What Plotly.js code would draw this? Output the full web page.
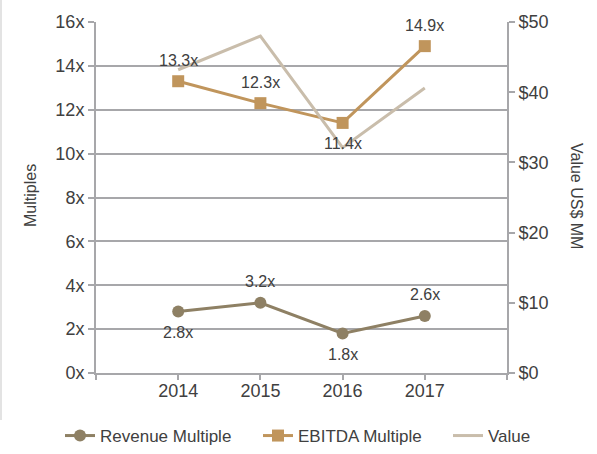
<!DOCTYPE html>
<html><head><meta charset="utf-8">
<script src="https://cdn.plot.ly/plotly-3.0.1.min.js"></script>
<style>body{margin:0;padding:0;background:#fff}#chart{width:597px;height:454px}</style>
</head><body><div id="chart"></div>
<script>
const years = [2014, 2015, 2016, 2017];
const revenueMultiple = [2.8, 3.2, 1.8, 2.6];
const ebitdaMultiple = [13.3, 12.3, 11.4, 14.9];
const valueMM = [43.2, 48.0, 32.1, 40.6];
const revenueLabelAbove = [false, true, false, true];
const ebitdaLabelAbove = [true, true, false, true];
const leftTicks = [0, 2, 4, 6, 8, 10, 12, 14, 16];
const rightTicks = [0, 10, 20, 30, 40, 50];
const fmt = v => v.toFixed(1) + 'x';
const font = 'Liberation Sans, Arial, sans-serif';
const grid = '#a7a7aa';
const txt = '#404040';

const traces = [
  {x: years, y: revenueMultiple, name: 'Revenue Multiple', type: 'scatter', mode: 'lines+markers',
   legend: 'legend',
   line: {color: '#8e8064', width: 3}, marker: {symbol: 'circle', size: 12, color: '#8e8064'}},
  {x: years, y: ebitdaMultiple, name: 'EBITDA Multiple', type: 'scatter', mode: 'lines+markers',
   legend: 'legend2',
   line: {color: '#c0955c', width: 3}, marker: {symbol: 'square', size: 12, color: '#c0955c'}},
  {x: years, y: valueMM, name: 'Value', type: 'scatter', mode: 'lines', xaxis: 'x2', yaxis: 'y2',
   legend: 'legend3',
   line: {color: '#c9bdab', width: 3}}
];

const labelAnn = (ys, above) => ys.map((v, i) => ({
  x: years[i], y: v, xref: 'x', yref: 'y', text: fmt(v), showarrow: false,
  xanchor: 'center', yanchor: 'middle', yshift: above[i] ? 21 : -21,
  font: {size: 16, color: txt}
}));

const legendAt = px => ({orientation: 'h', xref: 'container', x: px / 597, xanchor: 'left',
  yref: 'container', y: 0, yanchor: 'bottom', bgcolor: 'rgba(0,0,0,0)',
  font: {size: 17, color: txt}});

const layout = {
  width: 597, height: 454,
  margin: {l: 96, r: 90, t: 22, b: 81, autoexpand: false},
  paper_bgcolor: '#fff', plot_bgcolor: '#fff',
  font: {family: font, color: txt},
  showlegend: true,
  legend: legendAt(60),
  legend2: legendAt(258),
  legend3: legendAt(448),
  xaxis: {range: [2013, 2018], tickvals: [2014, 2015, 2016, 2017],
          ticktext: ['2014', '2015', '2016', '2017'],
          showgrid: false, zeroline: false, showline: true, linecolor: grid, linewidth: 2,
          ticks: '', tickfont: {size: 18, color: txt}},
  xaxis2: {range: [2013, 2018], overlaying: 'x', side: 'bottom', matches: 'x',
           tickvals: [2013, 2014, 2015, 2016, 2017, 2018], showticklabels: false,
           showgrid: false, zeroline: false, showline: false,
           ticks: 'outside', ticklen: 6, tickwidth: 2, tickcolor: grid},
  yaxis: {range: [0, 16], tickvals: leftTicks, ticktext: leftTicks.map(v => v + 'x'),
          showgrid: true, gridcolor: grid, gridwidth: 2, zeroline: false,
          showline: true, linecolor: grid, linewidth: 2,
          ticks: 'outside', ticklen: 6, tickwidth: 2, tickcolor: grid,
          tickfont: {size: 18, color: txt}},
  yaxis2: {range: [0, 50], tickvals: rightTicks, ticktext: rightTicks.map(v => '$' + v),
           overlaying: 'y', side: 'right', showgrid: false, zeroline: false,
           showline: true, linecolor: grid, linewidth: 2,
           ticks: 'outside', ticklen: 6, tickwidth: 2, tickcolor: grid,
           tickfont: {size: 18, color: txt}},
  annotations: [
    {text: 'Multiples', xref: 'paper', yref: 'paper', x: (30 - 96) / 411, y: (373 - 196) / 351,
     xanchor: 'center', yanchor: 'middle', textangle: -90, showarrow: false, font: {size: 16, color: txt}},
    {text: 'Value US$ MM', xref: 'paper', yref: 'paper', x: (577 - 96) / 411, y: (373 - 196) / 351,
     xanchor: 'center', yanchor: 'middle', textangle: 90, showarrow: false, font: {size: 16, color: txt}}
  ].concat(labelAnn(ebitdaMultiple, ebitdaLabelAbove), labelAnn(revenueMultiple, revenueLabelAbove)),
  shapes: [{type: 'rect', xref: 'paper', yref: 'paper', x0: -96 / 411, x1: -94 / 411,
            y0: (373 - 420) / 351, y1: 373 / 351, fillcolor: '#e3e3e3', line: {width: 0}}]
};

Plotly.newPlot('chart', traces, layout, {displayModeBar: false, staticPlot: true});
</script></body></html>
